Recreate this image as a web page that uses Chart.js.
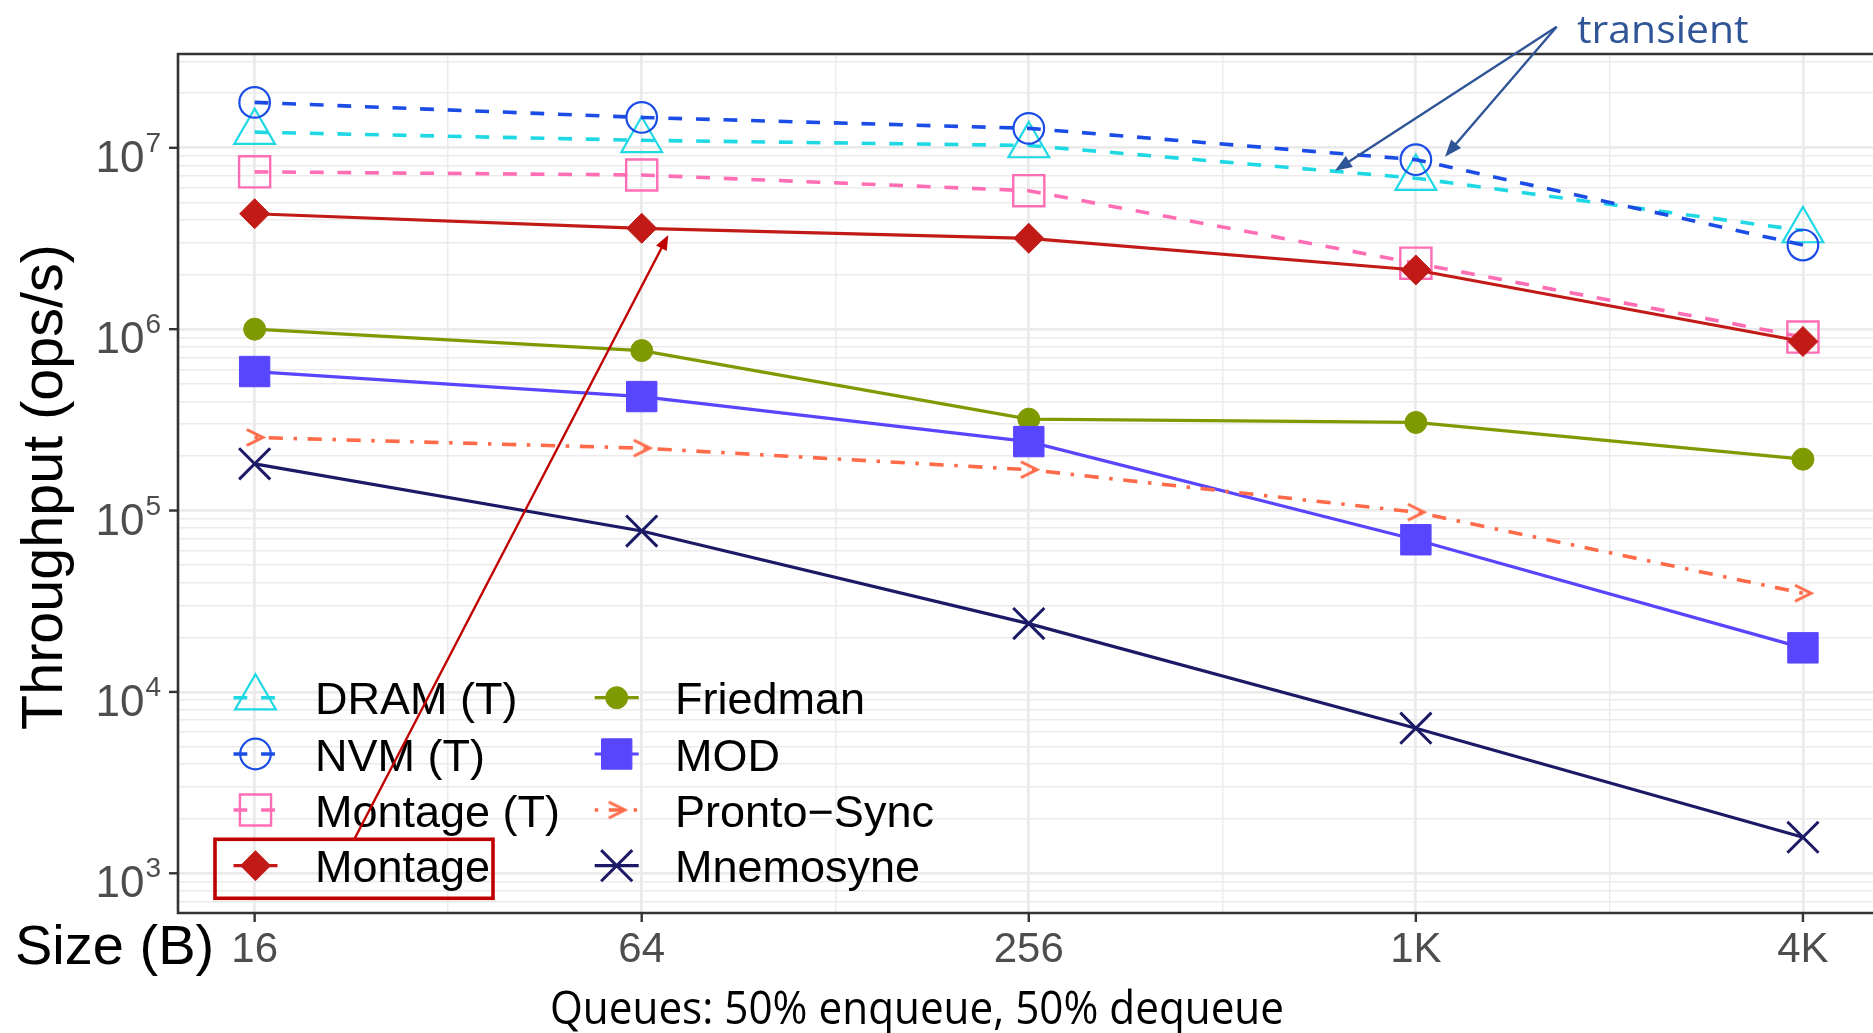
<!DOCTYPE html>
<html><head><meta charset="utf-8">
<script src="https://cdn.jsdelivr.net/npm/chart.js@4.4.1/dist/chart.umd.min.js"></script>
<style>html,body{margin:0;padding:0;background:#fff;overflow:hidden}canvas{display:block}</style>
</head><body>
<canvas id="c" width="1873" height="1033"></canvas>
<script>
// ---------- data ----------
const sizeLabels = ['16', '64', '256', '1K', '4K'];
const seriesNames = ['DRAM (T)', 'NVM (T)', 'Montage (T)', 'Montage', 'Friedman', 'MOD', 'Pronto\u2212Sync', 'Mnemosyne'];
const dramT     = [1.22e7, 1.10e7, 1.03e7, 6.8e6, 3.5e6];
const nvmT      = [1.78e7, 1.47e7, 1.28e7, 8.6e6, 2.91e6];
const montageT  = [7.37e6, 7.08e6, 5.80e6, 2.31e6, 9.05e5];
const montage   = [4.33e6, 3.60e6, 3.17e6, 2.12e6, 8.55e5];
const friedman  = [1.0e6, 7.62e5, 3.19e5, 3.06e5, 1.92e5];
const mod       = [5.84e5, 4.25e5, 2.40e5, 6.9e4, 1.75e4];
const pronto    = [2.53e5, 2.21e5, 1.68e5, 9.8e4, 3.5e4];
const mnemosyne = [1.81e5, 7.71e4, 2.38e4, 6.31e3, 1.58e3];
const yTickExps = [3, 4, 5, 6, 7];
const xAxisTitle = 'Size (B)';
const yAxisTitle = 'Throughput (ops/s)';
const caption = 'Queues: 50% enqueue, 50% dequeue';
const noteText = 'transient';

// ---------- styles ----------
const colors = ['#1ED8E4', '#1B4DE6', '#FF6EB4', '#C21B17', '#7F9A00', '#5846FF', '#FF6A48', '#1C1A66'];
const seriesValues = [dramT, nvmT, montageT, montage, friedman, mod, pronto, mnemosyne];

function makeChevron(color) {
  const cv = document.createElement('canvas');
  cv.width = 22; cv.height = 21;
  const c = cv.getContext('2d');
  c.strokeStyle = color; c.lineWidth = 3; c.lineJoin = 'miter';
  c.beginPath(); c.moveTo(3, 2.5); c.lineTo(19, 10.5); c.lineTo(3, 18.5); c.stroke();
  return cv;
}
const chevron = makeChevron(colors[6]);

const SOLID = [];
const DASH = [13.8, 13.8];
const DOTDASH = [3.5, 10.6, 14.2, 10.6];
const lineDashes = [DASH, DASH, DASH, SOLID, SOLID, SOLID, DOTDASH, SOLID];
const pStyles = ['triangle', 'circle', 'rect', 'rectRot', 'circle', 'rect', chevron, 'crossRot'];
const pRadius = [23.5, 15.3, 22, 15, 11, 21.5, 11, 22];
const pFilled = [false, false, false, true, true, true, false, false];
const pBorderW = [2.2, 2.2, 2.4, 1, 1, 1, 3, 3];

const datasets = seriesNames.map((name, i) => ({
  label: name,
  data: seriesValues[i].map((v, k) => ({ x: k, y: v })),
  borderColor: colors[i],
  backgroundColor: colors[i],
  borderWidth: lineDashes[i].length ? 3.6 : 3.2,
  borderDash: lineDashes[i],
  tension: 0,
  pointStyle: pStyles[i],
  pointRadius: pRadius[i],
  pointHoverRadius: pRadius[i],
  pointBorderWidth: pBorderW[i],
  pointBorderColor: colors[i],
  pointBackgroundColor: pFilled[i] ? colors[i] : 'rgba(0,0,0,0)',
  order: 10 - i
}));

const FONT = '"Liberation Sans", Arial, Helvetica, sans-serif';
const isPow10 = v => Math.abs(Math.log10(v) - Math.round(Math.log10(v))) < 1e-9;

function drawMarker(ctx, i, x, y) {
  const style = pStyles[i], r = pRadius[i];
  ctx.save();
  ctx.lineWidth = pBorderW[i];
  ctx.strokeStyle = colors[i];
  ctx.fillStyle = colors[i];
  if (style instanceof HTMLCanvasElement) {
    ctx.drawImage(style, x - style.width / 2, y - style.height / 2);
    ctx.restore(); return;
  }
  ctx.beginPath();
  if (style === 'circle') ctx.arc(x, y, r, 0, Math.PI * 2);
  else if (style === 'triangle') {
    for (let k = 0; k < 3; k++) {
      const a = k * 2 * Math.PI / 3;
      const px = x + Math.sin(a) * r, py = y - Math.cos(a) * r;
      if (k) ctx.lineTo(px, py); else ctx.moveTo(px, py);
    }
    ctx.closePath();
  } else if (style === 'rect') {
    const s = r * Math.SQRT1_2; ctx.rect(x - s, y - s, 2 * s, 2 * s);
  } else if (style === 'rectRot') {
    ctx.moveTo(x - r, y); ctx.lineTo(x, y - r); ctx.lineTo(x + r, y); ctx.lineTo(x, y + r); ctx.closePath();
  } else if (style === 'crossRot') {
    const o = r * Math.SQRT1_2;
    ctx.moveTo(x - o, y - o); ctx.lineTo(x + o, y + o);
    ctx.moveTo(x + o, y - o); ctx.lineTo(x - o, y + o);
  }
  if (pFilled[i]) ctx.fill();
  ctx.stroke();
  ctx.restore();
}

function arrow(ctx, x1, y1, x2, y2, color, w, hl, hw) {
  const ang = Math.atan2(y2 - y1, x2 - x1);
  const bx = x2 - Math.cos(ang) * hl, by = y2 - Math.sin(ang) * hl;
  ctx.save();
  ctx.strokeStyle = color; ctx.lineWidth = w; ctx.setLineDash([]);
  ctx.beginPath(); ctx.moveTo(x1, y1); ctx.lineTo(bx + Math.cos(ang) * 2, by + Math.sin(ang) * 2); ctx.stroke();
  ctx.fillStyle = color;
  ctx.beginPath(); ctx.moveTo(x2, y2);
  ctx.lineTo(bx - Math.sin(ang) * hw, by + Math.cos(ang) * hw);
  ctx.lineTo(bx + Math.sin(ang) * hw, by - Math.cos(ang) * hw);
  ctx.closePath(); ctx.fill();
  ctx.restore();
}

function fitText(ctx, text, x, y, font, width, color) {
  ctx.save();
  ctx.font = font;
  const w = ctx.measureText(text).width;
  ctx.translate(x, y); ctx.scale(width / w, 1);
  ctx.fillStyle = color; ctx.textAlign = 'left'; ctx.textBaseline = 'alphabetic';
  ctx.fillText(text, 0, 0);
  ctx.restore();
}

const overlay = {
  id: 'overlay',
  afterDraw(chart) {
    const ctx = chart.ctx, a = chart.chartArea, xs = chart.scales.x, ys = chart.scales.y;
    ctx.save();
    // panel border (top, left, bottom)
    ctx.strokeStyle = '#333333'; ctx.lineWidth = 2.6; ctx.setLineDash([]);
    ctx.beginPath();
    ctx.moveTo(a.right + 5, a.top); ctx.lineTo(a.left, a.top); ctx.lineTo(a.left, a.bottom); ctx.lineTo(a.right + 5, a.bottom);
    ctx.stroke();
    // y ticks and labels
    yTickExps.forEach(e => {
      const py = ys.getPixelForValue(Math.pow(10, e));
      ctx.strokeStyle = '#333333'; ctx.lineWidth = 2.4;
      ctx.beginPath(); ctx.moveTo(a.left - 9, py); ctx.lineTo(a.left, py); ctx.stroke();
      ctx.fillStyle = '#4d4d4d'; ctx.textAlign = 'right'; ctx.textBaseline = 'alphabetic';
      ctx.font = '28px ' + FONT;
      const ew = ctx.measureText(String(e)).width;
      const expRight = a.left - 17;
      ctx.fillText(String(e), expRight, py + 4);
      ctx.font = '44px ' + FONT;
      ctx.fillText('10', expRight - ew - 1, py + 24);
    });
    // x ticks and labels
    sizeLabels.forEach((l, k) => {
      const px = xs.getPixelForValue(k);
      ctx.strokeStyle = '#333333'; ctx.lineWidth = 2.4;
      ctx.beginPath(); ctx.moveTo(px, a.bottom); ctx.lineTo(px, a.bottom + 9); ctx.stroke();
      ctx.fillStyle = '#4d4d4d'; ctx.font = '42px ' + FONT; ctx.textAlign = 'center'; ctx.textBaseline = 'alphabetic';
      ctx.fillText(l, px, 962);
    });
    // axis titles
    ctx.fillStyle = '#000'; ctx.font = '56px ' + FONT; ctx.textAlign = 'left'; ctx.textBaseline = 'alphabetic';
    ctx.fillText(xAxisTitle, 15, 964);
    ctx.save();
    ctx.font = '57.5px ' + FONT;
    ctx.translate(62, 487); ctx.rotate(-Math.PI / 2);
    ctx.textAlign = 'center';
    ctx.fillText(yAxisTitle, 0, 0);
    ctx.restore();
    // legend
    const colX = [[255.5, 315], [616.7, 675]];
    const rowY = [697.7, 754, 810, 865.7];
    seriesNames.forEach((name, i) => {
      const c = Math.floor(i / 4), r = i % 4;
      const kx = colX[c][0], ky = rowY[r];
      ctx.save();
      ctx.strokeStyle = colors[i]; ctx.lineWidth = lineDashes[i].length ? 3.6 : 3.2;
      ctx.setLineDash(lineDashes[i]);
      ctx.beginPath(); ctx.moveTo(kx - 22, ky); ctx.lineTo(kx + 22, ky); ctx.stroke();
      ctx.restore();
      drawMarker(ctx, i, kx, ky);
      ctx.fillStyle = '#000'; ctx.font = '45px ' + FONT; ctx.textAlign = 'left'; ctx.textBaseline = 'alphabetic';
      ctx.fillText(name, colX[c][1], ky + 16.5);
    });
    // red highlight box + arrow
    ctx.strokeStyle = '#C00000'; ctx.lineWidth = 3.6; ctx.setLineDash([]);
    ctx.strokeRect(215, 839.3, 278, 59);
    arrow(ctx, 354.3, 839.3, 668.3, 235, '#C00000', 2.4, 15, 6);
    // transient annotation
    fitText(ctx, noteText, 1577, 42.7, '39px "Open Sans", sans-serif', 171.6, '#2F5597');
    arrow(ctx, 1556.7, 26.7, 1335, 170.7, '#2F5597', 2.4, 17, 6.5);
    arrow(ctx, 1556.7, 26.7, 1445, 156.7, '#2F5597', 2.4, 17, 6.5);
    // caption
    fitText(ctx, caption, 550, 1024, '46px "Open Sans", sans-serif', 734, '#000');
    ctx.restore();
  }
};

new Chart(document.getElementById('c'), {
  type: 'line',
  data: { datasets },
  plugins: [overlay],
  options: {
    responsive: false,
    animation: false,
    devicePixelRatio: 1,
    layout: { autoPadding: false, padding: { left: 178, right: 0, top: 54, bottom: 120 } },
    plugins: { legend: { display: false }, tooltip: { enabled: false } },
    scales: {
      x: {
        type: 'linear', min: -0.198, max: 4.181,
        afterBuildTicks: s => { s.ticks = []; for (let v = 0; v <= 4; v += 0.5) s.ticks.push({ value: v }); },
        afterFit: s => { s.height = 0; s.paddingLeft = 0; s.paddingRight = 0; },
        border: { display: false },
        grid: { color: '#ebebeb', drawTicks: false, lineWidth: c => (c.tick && Number.isInteger(c.tick.value)) ? 2.8 : 1.5 },
        ticks: { display: false }
      },
      y: {
        type: 'logarithmic', min: 604, max: 3.29e7,
        afterBuildTicks: s => {
          const t = [];
          for (let e = 2; e <= 7; e++) for (let k = 1; k <= 9; k++) {
            const v = k * Math.pow(10, e);
            if (v >= s.min && v <= s.max) t.push({ value: v, major: k === 1 });
          }
          s.ticks = t;
        },
        afterFit: s => { s.width = 0; s.paddingTop = 0; s.paddingBottom = 0; },
        border: { display: false },
        grid: { color: '#ebebeb', drawTicks: false, lineWidth: c => (c.tick && isPow10(c.tick.value)) ? 2.8 : 1.5 },
        ticks: { display: false }
      }
    }
  }
});
</script>
</body></html>
